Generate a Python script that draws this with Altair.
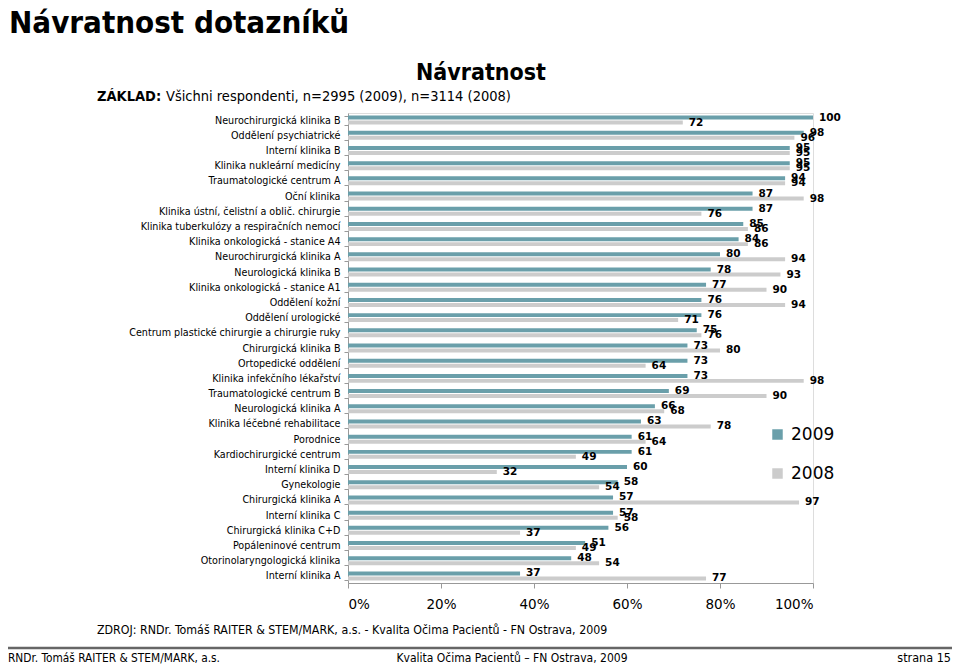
import altair as alt
import pandas as pd

categories = [
    "Neurochirurgická klinika B",
    "Oddělení psychiatrické",
    "Interní klinika B",
    "Klinika nukleární medicíny",
    "Traumatologické centrum A",
    "Oční klinika",
    "Klinika ústní, čelistní a oblič. chirurgie",
    "Klinika tuberkulózy a respiračních nemocí",
    "Klinika onkologická - stanice A4",
    "Neurochirurgická klinika A",
    "Neurologická klinika B",
    "Klinika onkologická - stanice A1",
    "Oddělení kožní",
    "Oddělení urologické",
    "Centrum plastické chirurgie a chirurgie ruky",
    "Chirurgická klinika B",
    "Ortopedické oddělení",
    "Klinika infekčního lékařství",
    "Traumatologické centrum B",
    "Neurologická klinika A",
    "Klinika léčebné rehabilitace",
    "Porodnice",
    "Kardiochirurgické centrum",
    "Interní klinika D",
    "Gynekologie",
    "Chirurgická klinika A",
    "Interní klinika C",
    "Chirurgická klinika C+D",
    "Popáleninové centrum",
    "Otorinolaryngologická klinika",
    "Interní klinika A",
]
values_2009 = [100, 98, 95, 95, 94, 87, 87, 85, 84, 80, 78, 77, 76, 76, 75, 73, 73, 73,
               69, 66, 63, 61, 61, 60, 58, 57, 57, 56, 51, 48, 37]
values_2008 = [72, 96, 95, 95, 94, 98, 76, 86, 86, 94, 93, 90, 94, 71, 76, 80, 64, 98,
               90, 68, 78, 64, 49, 32, 54, 97, 58, 37, 49, 54, 77]
years = ["2009", "2008"]
x_ticks = [0, 20, 40, 60, 80, 100]

title_main = "Návratnost dotazníků"
title_chart = "Návratnost"
base_bold = "ZÁKLAD:"
base_text = "Všichni respondenti, n=2995 (2009), n=3114 (2008)"
source_text = "ZDROJ: RNDr. Tomáš RAITER & STEM/MARK, a.s. -  Kvalita Očima Pacientů - FN Ostrava, 2009"
footer_left = "RNDr. Tomáš RAITER & STEM/MARK, a.s."
footer_center = "Kvalita Očima Pacientů – FN Ostrava, 2009"
footer_right = "strana 15"

rows = []
for c, a, b in zip(categories, values_2009, values_2008):
    rows.append({"cat": c, "year": "2009", "v": a})
    rows.append({"cat": c, "year": "2008", "v": b})
df = pd.DataFrame(rows)

FONT = "DejaVu Sans"
COND = "DejaVu Sans Condensed, Liberation Sans Narrow, DejaVu Sans"
W, H = 465, 470
PL, PT = 340, 105
TOTAL_W, TOTAL_H = 944, 657
# page coordinates -> plot-relative
def rx(px):
    return px - 8 - PL
def ry(py):
    return py - 8 - PT

color = alt.Color("year:N", scale=alt.Scale(domain=years, range=["#6A9FAA", "#CCCCCC"]),
                  legend=alt.Legend(title=None, orient="none", legendX=rx(769), legendY=ry(426),
                                    symbolType="square", symbolSize=110, symbolStrokeWidth=0,
                                    labelFontSize=17, labelFont=FONT, labelColor="#000",
                                    rowPadding=21, labelOffset=5))

y_enc = alt.Y("cat:N", sort=categories, title=None,
              scale=alt.Scale(paddingInner=0.41, paddingOuter=0.17),
              axis=alt.Axis(labelFont=FONT, labelFontSize=9.6, labelColor="#000", labelPadding=4,
                            tickBand="extent", tickSize=4, tickColor="#999", domainColor="#999",
                            labelLimit=400))
yoff = alt.YOffset("year:N", sort=years, scale=alt.Scale(paddingInner=0.2))
x_enc = alt.X("v:Q", scale=alt.Scale(domain=[0, 100]), title=None,
              axis=alt.Axis(values=x_ticks, labelExpr="datum.value + '%'", grid=False,
                            labelFont=FONT, labelFontSize=13.5, labelColor="#000",
                            tickSize=5, tickColor="#999", domainColor="#999", labelPadding=9))

bars = alt.Chart(df).mark_bar().encode(y=y_enc, yOffset=yoff, x=x_enc, color=color)
labels = alt.Chart(df).mark_text(align="left", baseline="middle", dx=6, font=FONT,
                                 fontSize=10.5, fontWeight="bold", color="#000").encode(
    y=alt.Y("cat:N", sort=categories), yOffset=alt.YOffset("year:N", sort=years),
    x="v:Q", text="v:Q")

def txt(text, px, py, size, weight="normal", align="left", font=FONT, baseline="alphabetic"):
    return alt.Chart(pd.DataFrame({"t": [text]})).mark_text(
        align=align, baseline=baseline, fontSize=size, fontWeight=weight, font=font, color="#000"
    ).encode(x=alt.value(rx(px)), y=alt.value(ry(py)), text="t:N")

texts = [
    txt(title_main, 9, 9, 31, "bold", font=COND, baseline="top"),
    txt(title_chart, 481, 80, 23, "bold", align="center", font=COND),
    txt(base_bold, 97, 101, 14.5, "bold", font=COND),
    txt(base_text, 166, 101, 14.5, font=COND),
    txt(source_text, 97, 634, 12.3, font=COND),
    txt(footer_left, 8, 662, 11.8, font=COND),
    txt(footer_center, 512, 662, 12, align="center", font=COND),
    txt(footer_right, 951, 662, 12.5, align="right", font=COND),
]
line = alt.Chart(pd.DataFrame({"a": [0]})).mark_rule(color="#666", strokeWidth=2.5).encode(
    x=alt.value(rx(8)), x2=alt.value(rx(952)), y=alt.value(ry(648)))

chart = alt.layer(bars, labels, line, *texts).properties(
    width=W, height=H,
    autosize=alt.AutoSizeParams(type="none"),
    padding={"left": PL, "top": PT, "right": TOTAL_W - PL - W, "bottom": TOTAL_H - PT - H},
).configure_view(stroke=None).configure(background="white")

chart.save("out.html", embed_options={"renderer": "svg", "actions": False})
